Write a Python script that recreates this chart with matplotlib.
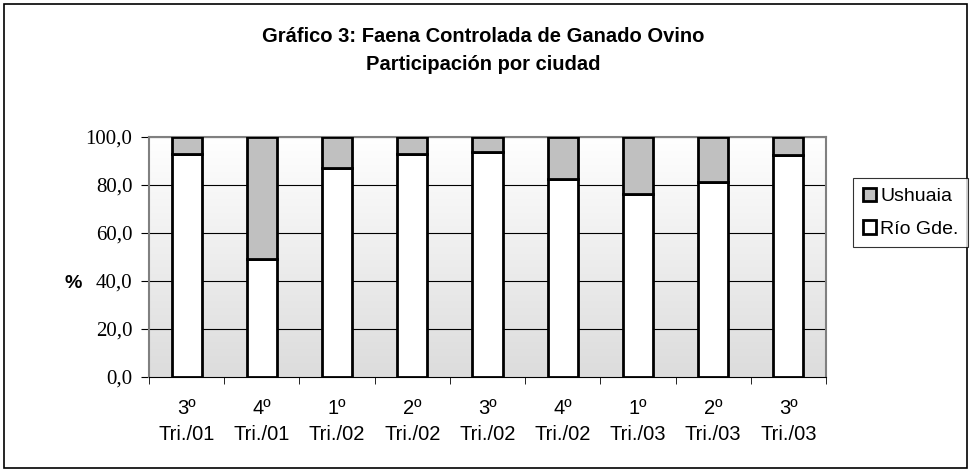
import matplotlib
matplotlib.use("Agg")
import matplotlib.pyplot as plt
import numpy as np
from matplotlib.patches import Rectangle, Patch

categories = ["3º\nTri./01", "4º\nTri./01", "1º\nTri./02", "2º\nTri./02", "3º\nTri./02",
              "4º\nTri./02", "1º\nTri./03", "2º\nTri./03", "3º\nTri./03"]
rio_gde = [92.8, 49.2, 87.2, 92.9, 93.6, 82.5, 76.1, 81.4, 92.5]
ushuaia = [100 - v for v in rio_gde]
y_ticks = [0, 20, 40, 60, 80, 100]
y_tick_labels = ["0,0", "20,0", "40,0", "60,0", "80,0", "100,0"]

fig = plt.figure(figsize=(9.73, 4.73), dpi=100)
fig.patches.append(Rectangle((4/973, 5/473), 963/973, 464/473, transform=fig.transFigure,
                             fill=False, edgecolor="black", linewidth=1.2))

ax = fig.add_axes([149/973, 1 - 377/473, 677/973, 240/473])
x = np.arange(len(categories))
ax.set_xlim(-0.5, len(categories) - 0.5)
ax.set_ylim(0, 100)

# gradient background
grad = np.linspace(0, 1, 256).reshape(-1, 1)
ax.imshow(grad, extent=[-0.5, len(categories) - 0.5, 0, 100], aspect="auto",
          cmap=matplotlib.colors.LinearSegmentedColormap.from_list("g", ["#dcdcdc", "#ffffff"]),
          origin="lower", zorder=0)

for t in y_ticks[1:]:
    ax.axhline(t, color="black", linewidth=0.8, zorder=1)

ax.bar(x, rio_gde, width=0.4, color="white", edgecolor="black", linewidth=2, zorder=3,
       label="Río Gde.")
ax.bar(x, ushuaia, bottom=rio_gde, width=0.4, color="#c0c0c0", edgecolor="black",
       linewidth=2, zorder=3, label="Ushuaia")

ax.set_yticks(y_ticks)
ax.set_yticklabels(y_tick_labels, family="Liberation Serif", fontsize=15)
ax.set_xticks(x)
ax.set_xticklabels(categories, family="Liberation Sans", fontsize=14.5, linespacing=1.45)
ax.set_xticks(np.arange(-0.5, len(categories), 1), minor=True)
ax.tick_params(axis="x", which="major", length=0, pad=16)
ax.tick_params(axis="x", which="minor", length=5, direction="out")
ax.tick_params(axis="y", length=6, direction="out", pad=6)

for s in ["top", "right", "left"]:
    ax.spines[s].set_color("#808080")
    ax.spines[s].set_linewidth(1.5)
ax.spines["bottom"].set_color("black")

fig.text(73/973, 1 - 283/473, "%", family="Liberation Sans", fontweight="bold",
         fontsize=14, ha="center", va="center")
fig.text(483/973, 1 - 37/473, "Gráfico 3: Faena Controlada de Ganado Ovino",
         family="Liberation Sans", fontweight="bold", fontsize=14.5, ha="center", va="center")
fig.text(483/973, 1 - 65/473, "Participación por ciudad",
         family="Liberation Sans", fontweight="bold", fontsize=14.5, ha="center", va="center")

handles = [Patch(facecolor="#c0c0c0", edgecolor="black", linewidth=2, label="Ushuaia"),
           Patch(facecolor="white", edgecolor="black", linewidth=2, label="Río Gde.")]
leg = fig.legend(handles=handles, loc="upper left", bbox_to_anchor=(853/973, 1 - 178/473),
                 prop={"family": "Liberation Sans", "size": 14}, frameon=True, fancybox=False,
                 handlelength=0.7, handleheight=0.7, handletextpad=0.2, borderpad=0.5,
                 labelspacing=0.75, borderaxespad=0)
leg.get_frame().set_edgecolor("black")
leg.get_frame().set_linewidth(0.8)

fig.savefig("out.png", dpi=100)
